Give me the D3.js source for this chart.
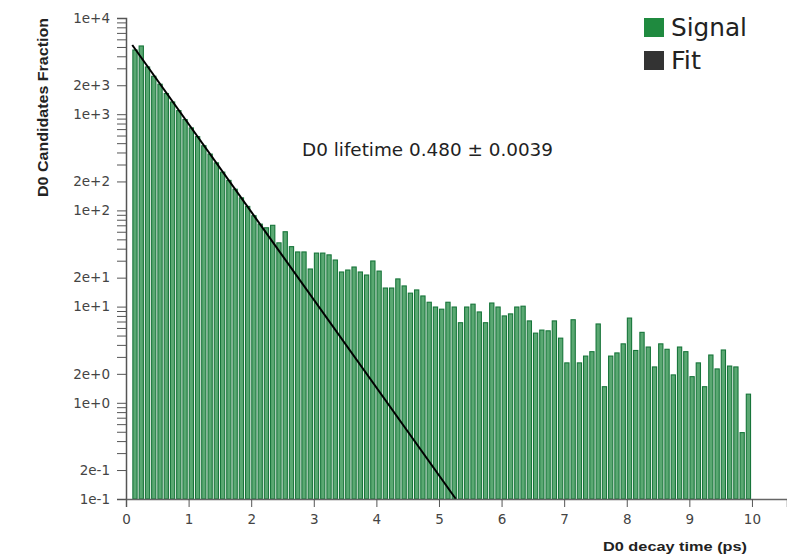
<!DOCTYPE html>
<html>
<head>
<meta charset="utf-8">
<script src="https://cdn.jsdelivr.net/npm/d3@7"></script>
<style>
  html, body { margin: 0; padding: 0; background: #fff; }
  svg { display: block; }
</style>
</head>
<body>
<svg id="chart" width="787" height="558"></svg>
<script>
// ---- data ----
const binStarts = [0.1,0.2,0.3,0.4,0.5,0.6,0.7,0.8,0.9,1.0,1.1,1.2,1.3,1.4,1.5,1.6,1.7,1.8,1.9,2.0,
  2.1,2.2,2.3,2.4,2.5,2.6,2.7,2.8,2.9,3.0,3.1,3.2,3.3,3.4,3.5,3.6,3.7,3.8,3.9,4.0,
  4.1,4.2,4.3,4.4,4.5,4.6,4.7,4.8,4.9,5.0,5.1,5.2,5.3,5.4,5.5,5.6,5.7,5.8,5.9,6.0,
  6.1,6.2,6.3,6.4,6.5,6.6,6.7,6.8,6.9,7.0,7.1,7.2,7.3,7.4,7.5,7.6,7.7,7.8,7.9,8.0,
  8.1,8.2,8.3,8.4,8.5,8.6,8.7,8.8,8.9,9.0,9.1,9.2,9.3,9.4,9.5,9.6,9.7,9.8,9.9];
const binWidth = 0.1;
const signalValues = [4650,5120,3100,2480,2050,1640,1340,1090,880,720,585,470,385,312,250,205,166,135,110,88,
  72,66,70,46,60,42,37,37,24.6,36,36,34.5,30.5,22.9,24,25.8,22.9,21.3,29.8,23.4,
  15.6,15.6,19.4,16.4,13.8,14.9,12.9,11.1,9.9,9.4,11.1,9.9,6.8,9.9,10.6,8.8,6.8,10.9,9.9,8.0,
  8.4,9.9,10.1,7.1,5.3,5.7,5.6,7.1,4.7,2.6,7.3,2.6,3.06,3.4,6.6,1.47,3.06,3.3,4.1,7.6,
  3.5,5.4,3.8,2.36,4.1,3.6,1.95,3.8,3.4,1.87,2.6,1.47,3.14,2.25,3.54,2.41,2.36,0.49,1.23];
const fitX = [0.1, 5.27];
const fitY = [5240, 0.1];
const xTicks = [0,1,2,3,4,5,6,7,8,9,10];
const yDomain = [0.1, 10000];
const xDomain = [0, 10.56];
const legendLabels = ["Signal", "Fit"];
const annotation = "D0 lifetime 0.480 \u00b1 0.0039";
const xTitle = "D0 decay time (ps)";
const yTitle = "D0 Candidates Fraction";

// ---- layout ----
const svg = d3.select("#chart");
const mLeft = 126, mRight = 787, mTop = 18, mBottom = 499;
const x = d3.scaleLinear().domain(xDomain).range([mLeft, mRight]);
const y = d3.scaleLog().domain(yDomain).range([mBottom, mTop]);

const bars = binStarts.map((s, i) => ({ s, v: signalValues[i] }));

// bars
svg.append("g").selectAll("rect").data(bars).join("rect")
  .attr("x", d => x(d.s) + 0.6)
  .attr("width", d => x(d.s + binWidth) - x(d.s) - 2.0)
  .attr("y", d => y(d.v))
  .attr("height", d => y(yDomain[0]) - y(d.v))
  .attr("fill", "#5aa872")
  .attr("stroke", "#17753a")
  .attr("stroke-width", 1.1);

// fit line
const fitPts = fitX.map((t, i) => [t, fitY[i]]);
svg.append("path")
  .datum(fitPts)
  .attr("d", d3.line().x(d => x(d[0])).y(d => y(d[1])))
  .attr("fill", "none")
  .attr("stroke", "#000")
  .attr("stroke-width", 2);

// y axis
const fmt = d3.format(".0e");
const yTickVals = y.ticks();
const yAxis = d3.axisLeft(y)
  .tickValues(yTickVals)
  .tickSize(9)
  .tickPadding(7)
  .tickFormat(d => {
    const m = Math.round(d / Math.pow(10, Math.floor(Math.log10(d) + 1e-9)));
    return (m === 1 || m === 2) ? fmt(d) : "";
  });
const gy = svg.append("g").attr("transform", `translate(${mLeft},0)`).call(yAxis);
gy.selectAll("text").attr("font-family", "DejaVu Sans").attr("font-size", 13.5).attr("fill", "#444");
gy.selectAll("line").attr("stroke", "#555");
gy.select(".domain").attr("stroke", "#555").attr("stroke-width", 1.5);

// x axis
const xAxis = d3.axisBottom(x).tickValues(xTicks).tickSize(8).tickPadding(7).tickFormat(d3.format("d"));
const gx = svg.append("g").attr("transform", `translate(0,${mBottom})`).call(xAxis);
gx.selectAll("text").attr("font-family", "DejaVu Sans").attr("font-size", 13.5).attr("fill", "#444");
gx.selectAll("line").attr("stroke", "#555");
gx.select(".domain").attr("stroke", "#666").attr("stroke-width", 1.5);

// axis titles
svg.append("text")
  .attr("transform", "translate(48,107.5) rotate(-90)")
  .attr("text-anchor", "middle")
  .attr("font-family", "Liberation Sans")
  .attr("font-weight", "bold")
  .attr("font-size", 14)
  .attr("textLength", 179)
  .attr("lengthAdjust", "spacingAndGlyphs")
  .attr("fill", "#222")
  .text(yTitle);

svg.append("text")
  .attr("x", 603).attr("y", 551)
  .attr("font-family", "Liberation Sans")
  .attr("font-weight", "bold")
  .attr("font-size", 13)
  .attr("textLength", 144)
  .attr("lengthAdjust", "spacingAndGlyphs")
  .attr("fill", "#222")
  .text(xTitle);

// annotation
svg.append("text")
  .attr("x", 302).attr("y", 156)
  .attr("font-family", "DejaVu Sans")
  .attr("font-size", 17)
  .attr("textLength", 251)
  .attr("lengthAdjust", "spacingAndGlyphs")
  .attr("fill", "#222")
  .text(annotation);

// legend
const legColors = ["#1f8a3f", "#333333"];
const legLens = [76, 30];
const leg = svg.append("g");
legendLabels.forEach((lab, i) => {
  leg.append("rect").attr("x", 644).attr("y", 18 + i * 33).attr("width", 20).attr("height", 19)
    .attr("fill", legColors[i]);
  leg.append("text").attr("x", 671).attr("y", 36 + i * 33)
    .attr("font-family", "DejaVu Sans")
    .attr("font-size", 25)
    .attr("textLength", legLens[i])
    .attr("lengthAdjust", "spacingAndGlyphs")
    .attr("fill", "#222")
    .text(lab);
});
</script>
</body>
</html>
